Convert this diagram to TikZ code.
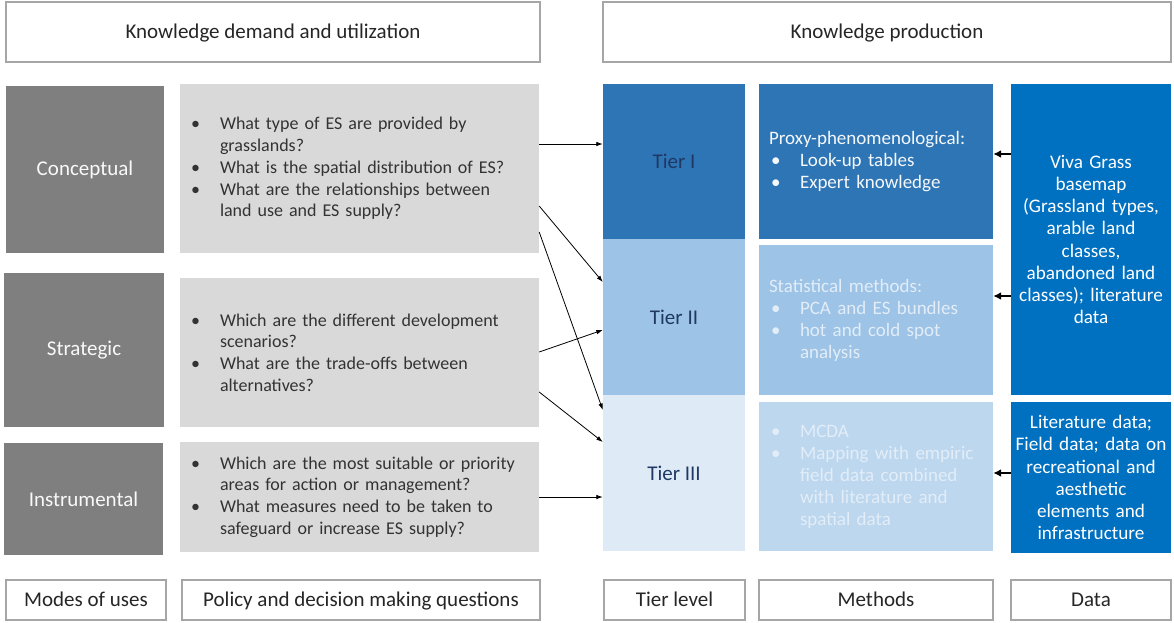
\documentclass[tikz,border=0pt]{standalone}
\usepackage{fontspec}
\setmainfont{Carlito}
\usetikzlibrary{arrows.meta,calc}
\definecolor{hdrgray}{HTML}{A6A6A6}
\definecolor{darkg}{HTML}{7F7F7F}
\definecolor{lightg}{HTML}{D9D9D9}
\definecolor{blueA}{HTML}{2E75B6}
\definecolor{blueB}{HTML}{9DC3E6}
\definecolor{blueC}{HTML}{DEEBF7}
\definecolor{blueM}{HTML}{BDD7EE}
\definecolor{blueD}{HTML}{0070C0}
\definecolor{navy}{HTML}{1F3864}
\definecolor{txt}{HTML}{262626}
\definecolor{qtxt}{HTML}{333333}
\definecolor{paletxt}{HTML}{E2EDF8}
\newcommand{\qitem}[1]{\makebox[29pt][l]{•}#1}
\newcommand{\qind}{\hspace*{29pt}}
\newcommand{\methitem}[1]{\makebox[31pt][l]{\hspace*{2pt}•}#1}
\newcommand{\methind}{\hspace*{31pt}}
\begin{document}
\begin{tikzpicture}[x=1pt,y=-1pt,
  hdr/.style={draw=hdrgray, line width=1.1pt, fill=white, text=txt,
    font=\fontsize{21}{25}\selectfont, inner sep=0pt, text height=16pt, text depth=4pt},
  mode/.style={fill=darkg, text=white!95!darkg, font=\fontsize{21}{25}\selectfont, inner sep=0pt},
  qbox/.style={fill=lightg, text=qtxt, font=\fontsize{18}{21.7}\selectfont,
    align=left, inner xsep=11pt, inner ysep=0pt, text width=337pt},
  tier/.style={text=navy, font=\fontsize{21}{25}\selectfont, inner sep=0pt, minimum width=142},
  meth/.style={font=\fontsize{19}{22}\selectfont, align=left, inner xsep=10pt, inner ysep=0pt,
    text width=214pt},
  dat/.style={fill=blueD, text=white, font=\fontsize{19.2}{22.2}\selectfont, align=center,
    inner xsep=1pt, inner ysep=0pt, text width=158pt},
  qarrow/.style={-{Latex[length=6.5pt,width=4.5pt]}, line width=0.8pt, black},
  darrow/.style={-{Latex[length=8pt,width=8pt]}, line width=1.6pt, black}
]
\useasboundingbox (0,0) rectangle (1174,622);
\fill[white] (0,0) rectangle (1174,622);

% headers
\node[hdr, minimum width=534, minimum height=60] (hL) at (273,32) {Knowledge demand and utilization};
\node[hdr, minimum width=568, minimum height=60] (hR) at (887,32) {Knowledge production};

% modes
\node[mode, minimum width=158, minimum height=167] (m1) at (85,169.5) {Conceptual};
\node[mode, minimum width=160, minimum height=154] (m2) at (84,350) {Strategic};
\node[mode, minimum width=159, minimum height=112] (m3) at (83.5,499) {Instrumental};

% questions
\node[qbox, minimum height=169] (q1) at (359.5,168.5) {%
\qitem{What type of ES are provided by}\\
\qind grasslands?\\
\qitem{What is the spatial distribution of ES?}\\
\qitem{What are the relationships between}\\
\qind land use and ES supply?};
\node[qbox, minimum height=149] (q2) at (359.5,352.5) {%
\qitem{Which are the different development}\\
\qind scenarios?\\
\qitem{What are the trade-offs between}\\
\qind alternatives?};
\node[qbox, minimum height=110] (q3) at (359.5,497) {%
\qitem{Which are the most suitable or priority}\\
\qind areas for action or management?\\
\qitem{What measures need to be taken to}\\
\qind safeguard or increase ES supply?};

% tiers
\node[tier, fill=blueA, minimum height=155] (t1) at (674,161.5) {Tier I};
\node[tier, fill=blueB, minimum height=156] (t2) at (674,317) {Tier II};
\node[tier, fill=blueC, minimum height=156] (t3) at (674,473) {Tier III};

% methods
\node[meth, fill=blueA, text=white!95!blueA, minimum height=155] (me1) at (876,161.5) {%
Proxy-phenomenological:\\
\methitem{Look-up tables}\\
\methitem{Expert knowledge}};
\node[meth, fill=blueB, text=paletxt, minimum height=150] (me2) at (876,320) {%
Statistical methods:\\
\methitem{PCA and ES bundles}\\
\methitem{hot and cold spot}\\
\methind analysis};
\node[meth, fill=blueM, text=paletxt, minimum height=149] (me3) at (876,476.5) {%
\methitem{MCDA}\\
\methitem{Mapping with empiric}\\
\methind field data combined\\
\methind with literature and\\
\methind spatial data};

% data
\node[dat, minimum height=311] (d1) at (1091,239.5) {%
Viva Grass\\basemap\\(Grassland types,\\arable land\\classes,\\abandoned land\\classes); literature\\data};
\node[dat, minimum height=151] (d2) at (1091,477.5) {%
Literature data;\\Field data; data on\\recreational and\\aesthetic\\elements and\\infrastructure};

% bottom labels
\node[hdr, minimum width=160, minimum height=40] (b1) at (86,600) {Modes of uses};
\node[hdr, minimum width=358, minimum height=40] (b2) at (361,600) {Policy and decision making questions};
\node[hdr, minimum width=141, minimum height=40] (b3) at (674.5,600) {Tier level};
\node[hdr, minimum width=234, minimum height=40] (b4) at (876,600) {Methods};
\node[hdr, minimum width=160, minimum height=40] (b5) at (1091,600) {Data};

% question -> tier arrows
\draw[qarrow] ($(q1.east)+(0,-24.5)$) -- ($(t1.west)+(0,-17.5)$);
\draw[qarrow] ($(q1.east)+(0,37.5)$) -- ($(t2.west)+(0,-35)$);
\draw[qarrow] ($(q1.east)+(0,63.5)$) -- ($(t3.west)+(0,-63)$);
\draw[qarrow] ($(q2.east)+(0,-0.5)$) -- ($(t2.west)+(0,13)$);
\draw[qarrow] ($(q2.east)+(0,39.5)$) -- ($(t3.west)+(0,-31)$);
\draw[qarrow] (q3.east) -- ($(t3.west)+(0,24)$);

% data -> methods arrows
\draw[darrow] ($(d1.west)+(0,-85.5)$) -- ($(me1.east)+(0,-7.5)$);
\draw[darrow] ($(d1.west)+(0,56.5)$) -- ($(me2.east)+(0,-24)$);
\draw[darrow] ($(d2.west)+(0,-4.5)$) -- ($(me3.east)+(0,-3.5)$);
\end{tikzpicture}
\end{document}
